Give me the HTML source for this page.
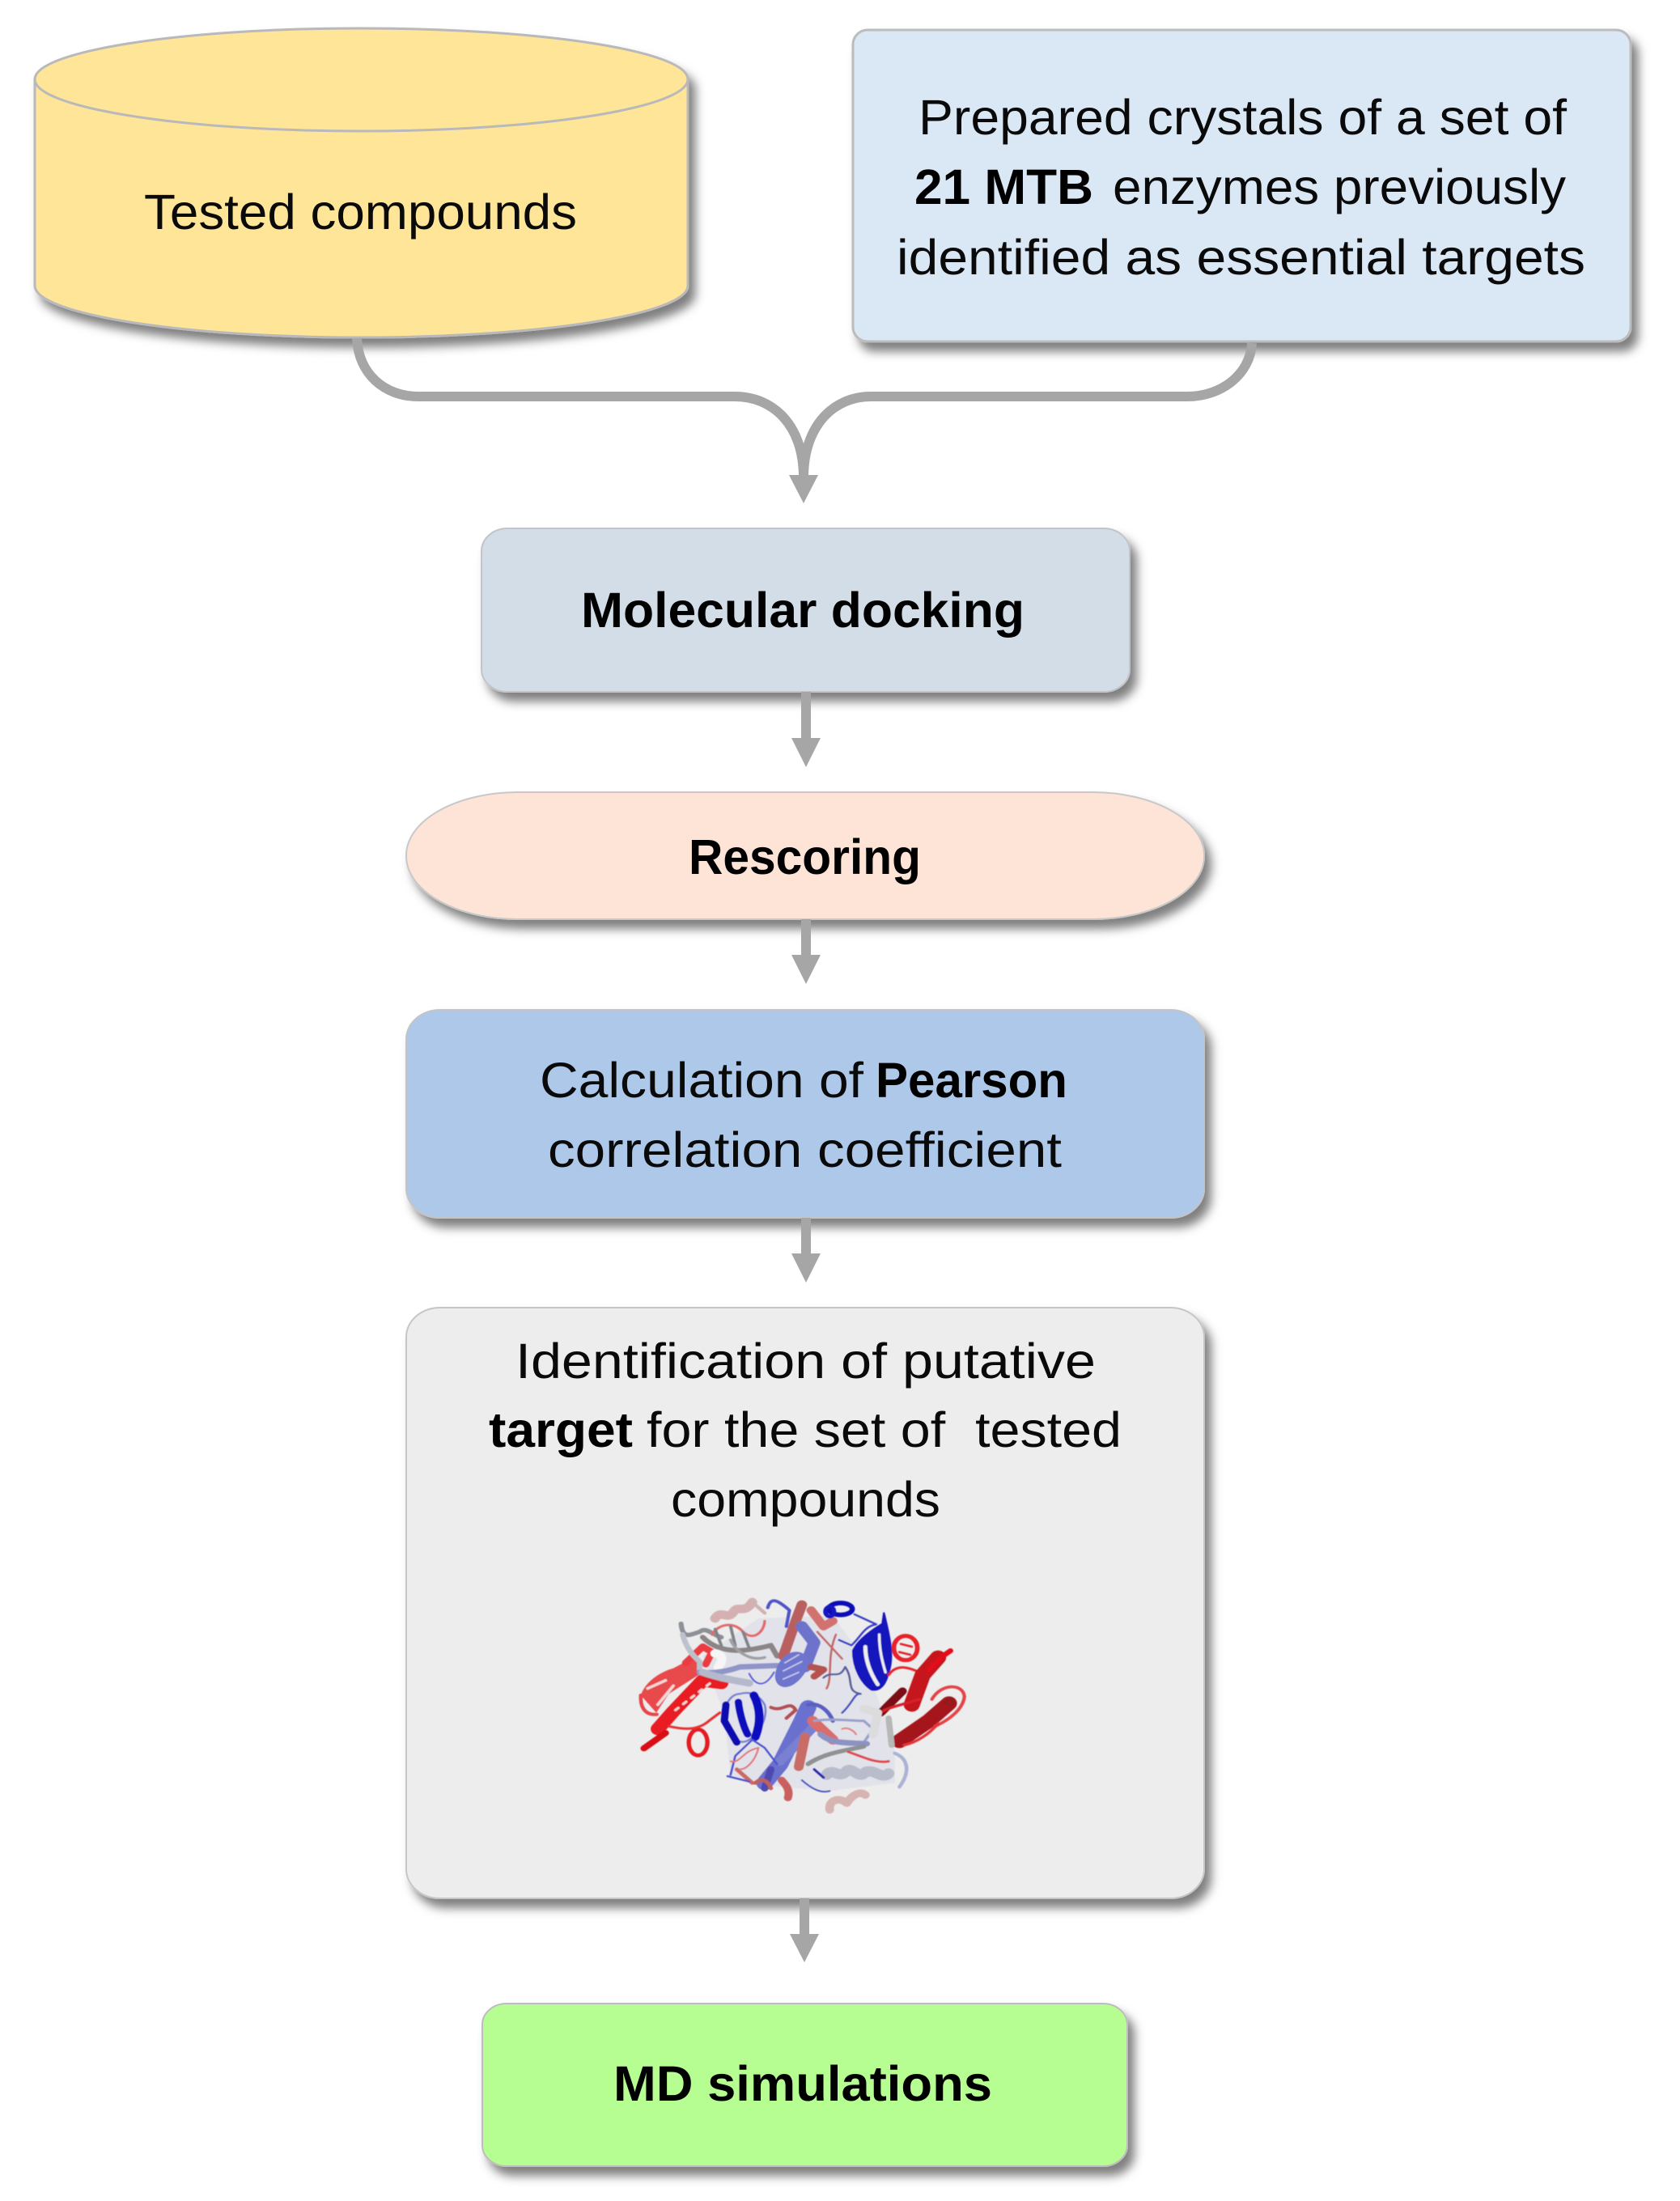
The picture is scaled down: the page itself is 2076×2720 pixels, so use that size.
<!DOCTYPE html>
<html lang="en">
<head>
<meta charset="utf-8">
<title>Docking workflow</title>
<style>
html,body{margin:0;padding:0;background:#fff}
svg{display:block}
text{font-family:"Liberation Sans",Arial,sans-serif;font-size:61px;fill:#0a0a0a}
.b{font-weight:bold;fill:#000}
</style>
</head>
<body>
<svg width="2076" height="2720" viewBox="0 0 2076 2720" xmlns="http://www.w3.org/2000/svg">
<defs>
<filter id="s" x="-10%" y="-15%" width="125%" height="140%">
<feDropShadow dx="8" dy="11" stdDeviation="6" flood-color="#000" flood-opacity=".5"/>
</filter>
<filter id="blur" x="-5%" y="-5%" width="110%" height="110%"><feGaussianBlur stdDeviation="1.6"/></filter>
</defs>
<rect width="2076" height="2720" fill="#fff"/>

<!-- Cylinder -->
<path filter="url(#s)" d="M43 98 C43 63 224 35 446 35 C669 35 850 63 850 98 V353 C850 388 669 417 446 417 C224 417 43 388 43 353 Z" fill="#ffe597" stroke="#b9b9bb" stroke-width="3"/>
<path d="M43 98 C43 133 224 162 446 162 C669 162 850 133 850 98" fill="none" stroke="#b9b9bb" stroke-width="3"/>
<text x="178" y="283" textLength="535" lengthAdjust="spacingAndGlyphs">Tested compounds</text>

<!-- Crystals -->
<rect filter="url(#s)" x="1054" y="37" width="961" height="385" rx="18" fill="#dae8f5" stroke="#bcbcbc" stroke-width="3"/>
<text x="1135" y="166" textLength="801" lengthAdjust="spacingAndGlyphs">Prepared crystals of a set of</text>
<text class="b" x="1130" y="252" textLength="221" lengthAdjust="spacingAndGlyphs">21 MTB</text>
<text x="1375" y="252" textLength="560" lengthAdjust="spacingAndGlyphs">enzymes previously</text>
<text x="1108" y="339" textLength="851" lengthAdjust="spacingAndGlyphs">identified as essential targets</text>

<!-- Connectors top -->
<g fill="none" stroke="#a6a6a6" stroke-width="12">
<path d="M441 418 C443 462 475 490 517 490 H908 C955 490 993 525 993 590"/>
<path d="M1547 424 C1545 462 1510 490 1467 490 H1076 C1031 490 993 525 993 590"/>
</g>
<polygon points="975,587 1011,587 993,622" fill="#a6a6a6"/>

<!-- Molecular docking -->
<rect filter="url(#s)" x="595" y="653" width="801" height="202" rx="32" ry="28" fill="#d3dde8" stroke="#c2c4c7" stroke-width="2"/>
<text class="b" x="718" y="775" textLength="548" lengthAdjust="spacingAndGlyphs">Molecular docking</text>
<rect x="990" y="855" width="12" height="60" fill="#a6a6a6"/>
<polygon points="978,912 1014,912 996,948" fill="#a6a6a6"/>

<!-- Rescoring -->
<rect filter="url(#s)" x="502" y="979" width="986" height="157" rx="138" ry="78" fill="#fee4d6" stroke="#c8c8c8" stroke-width="2"/>
<text class="b" x="851" y="1080" textLength="287" lengthAdjust="spacingAndGlyphs">Rescoring</text>
<rect x="990" y="1136" width="12" height="64" fill="#a6a6a6"/>
<polygon points="978,1180 1014,1180 996,1216" fill="#a6a6a6"/>

<!-- Pearson -->
<rect filter="url(#s)" x="502" y="1248" width="986" height="257" rx="42" ry="36" fill="#adc8e9" stroke="#c2c4c7" stroke-width="2"/>
<text x="667" y="1356" textLength="400" lengthAdjust="spacingAndGlyphs">Calculation of</text>
<text class="b" x="1082" y="1356" textLength="237" lengthAdjust="spacingAndGlyphs">Pearson</text>
<text x="677" y="1442" textLength="635" lengthAdjust="spacingAndGlyphs">correlation coefficient</text>
<rect x="990" y="1505" width="12" height="48" fill="#a6a6a6"/>
<polygon points="978,1549 1014,1549 996,1585" fill="#a6a6a6"/>

<!-- Identification -->
<rect filter="url(#s)" x="502" y="1616" width="986" height="730" rx="42" ry="36" fill="#ededed" stroke="#c6c6c6" stroke-width="2"/>
<text x="637" y="1703" textLength="717" lengthAdjust="spacingAndGlyphs">Identification of putative</text>
<text class="b" x="604" y="1788" textLength="178" lengthAdjust="spacingAndGlyphs">target</text>
<text x="799" y="1788" textLength="587" lengthAdjust="spacingAndGlyphs">for the set of&#160; tested</text>
<text x="829" y="1874" textLength="333" lengthAdjust="spacingAndGlyphs">compounds</text>

<!-- Protein -->
<g transform="translate(700 1920) scale(.3827 .3333)" fill="none" stroke-linecap="round" stroke-linejoin="round" filter="url(#blur)">
<!-- pale body -->
<path d="M440 380 L620 240 L860 230 L930 340 L1000 520 L1060 720 L1060 850 L850 880 L640 860 L530 820 L510 600 Z" fill="#d9d9e8" opacity=".55"/>
<!-- left red domain -->
<path d="M240 525 C255 475 300 440 345 425 L420 380 L440 440 L330 520 L290 590 Z" fill="#e8484c"/>
<path d="M262 500 L320 470 M295 560 L345 490" stroke="#f1d7d7" stroke-width="10"/>
<path d="M240 525 C238 565 250 600 292 596" stroke="#e8454a" stroke-width="12"/>
<path d="M385 405 L440 345 L470 365 L450 410" stroke="#ea3e42" stroke-width="24"/>
<path d="M295 650 L345 585 L440 470 L500 480" stroke="#e81d22" stroke-width="46"/>
<path d="M352 580 L470 475" stroke="#f3d3d3" stroke-width="9" stroke-dasharray="12 22"/>
<path d="M250 722 L320 665" stroke="#d90f14" stroke-width="22"/>
<ellipse cx="425" cy="700" rx="30" ry="48" stroke="#e31b20" stroke-width="14"/>
<path d="M330 640 C370 650 420 660 460 620 L495 590" stroke="#e63034" stroke-width="9"/>
<!-- top gray / pink -->
<path d="M370 260 C375 320 400 300 430 290 C450 270 470 300 500 310" stroke="#8d9096" stroke-width="16"/>
<path d="M375 300 C385 340 400 370 430 400 L430 430" stroke="#bcc2cd" stroke-width="18"/>
<path d="M480 240 C500 205 520 250 540 215 C555 190 575 225 600 180" stroke="#d5b0b2" stroke-width="32"/>
<path d="M600 180 L640 220" stroke="#cfb3b4" stroke-width="12"/>
<path d="M470 300 C490 260 540 250 570 290 C610 330 640 280 640 250" stroke="#e46b6b" stroke-width="9"/>
<path d="M440 310 C500 380 590 360 660 340 L680 380" stroke="#8b8587" stroke-width="18"/>
<path d="M480 280 L500 340 M530 270 L545 340 M570 290 L590 350" stroke="#80848a" stroke-width="10"/>
<path d="M530 320 C545 360 590 400 640 385" stroke="#a0a0a2" stroke-width="10"/>
<path d="M490 420 C510 390 500 370 480 370" stroke="#f6f6f6" stroke-width="30"/>
<path d="M430 440 C470 445 510 440 560 420 L680 415" stroke="#8f95c9" stroke-width="20"/>
<path d="M440 440 C490 460 540 470 590 480" stroke="#b4b9cb" stroke-width="26"/>
<path d="M590 445 C610 490 640 500 670 440" stroke="#5b62cf" stroke-width="6"/>
<!-- central upper -->
<path d="M650 200 C660 160 680 170 720 210 L710 270" stroke="#4f55c7" stroke-width="11"/>
<path d="M700 380 L740 250 L760 190" stroke="#b7605f" stroke-width="34"/>
<path d="M790 210 L830 270 L860 250" stroke="#d27270" stroke-width="30"/>
<path d="M760 270 L800 330 L770 420" stroke="#6d73cb" stroke-width="40"/>
<path d="M690 440 C710 350 790 370 760 430 C720 500 680 490 690 440" fill="#6e74cc" stroke="#6e74cc" stroke-width="30"/>
<path d="M705 405 L750 375 M700 435 L760 400 M700 465 L750 440" stroke="#c6c9ea" stroke-width="5"/>
<path d="M790 420 L830 430 L800 455" stroke="#b5524f" stroke-width="24"/>
<ellipse cx="885" cy="205" rx="38" ry="22" stroke="#1111b8" stroke-width="17"/>
<ellipse cx="850" cy="215" rx="14" ry="18" stroke="#1212c0" stroke-width="14"/>
<path d="M930 225 L1000 262 C960 270 950 310 920 340 L880 320" stroke="#3a3fc6" stroke-width="7"/>
<path d="M810 290 L890 390 M870 300 C840 380 860 460 840 500" stroke="#c36a68" stroke-width="7"/>
<path d="M830 460 C860 430 880 470 900 420 C930 470 900 510 950 520" stroke="#5a5f9b" stroke-width="7"/>
<!-- right blue sheet -->
<path d="M925 360 C940 320 990 280 1020 260 L1025 220 C1040 290 1060 380 1040 440 C1030 490 1010 510 985 505 C950 480 925 420 925 360 Z" fill="#1414bd" stroke="#1414bd" stroke-width="6"/>
<path d="M965 345 C965 400 985 450 1005 485" stroke="#ededed" stroke-width="13"/>
<path d="M1010 300 C1010 360 1020 400 1030 440" stroke="#ededed" stroke-width="9"/>
<!-- right red -->
<ellipse cx="1095" cy="350" rx="38" ry="45" stroke="#e8242a" stroke-width="15"/>
<path d="M1080 335 L1115 345 M1075 365 L1110 375" stroke="#e8242a" stroke-width="8"/>
<path d="M1040 450 C1070 400 1120 430 1140 440" stroke="#e8282d" stroke-width="9"/>
<path d="M1115 560 L1150 450 L1200 385" stroke="#c4141a" stroke-width="52"/>
<path d="M1170 430 L1215 380 L1240 360" stroke="#e3101a" stroke-width="18"/>
<path d="M1015 590 L1085 510" stroke="#7a1014" stroke-width="28"/>
<path d="M1000 610 C1010 580 1050 570 1080 560 L1140 540" stroke="#d5232a" stroke-width="10"/>
<path d="M1075 695 L1170 620 L1235 555" stroke="#a5171c" stroke-width="52"/>
<path d="M1180 540 C1210 480 1280 480 1285 530 C1280 580 1230 620 1190 640" stroke="#e3444a" stroke-width="11"/>
<circle cx="1238" cy="550" r="12" stroke="#8e1a1f" stroke-width="7"/>
<path d="M1090 710 C1130 700 1170 670 1200 630" stroke="#e5363b" stroke-width="10"/>
<!-- left blue sheet -->
<path d="M505 610 C520 660 550 720 590 690 C630 660 650 600 640 560 C620 520 590 510 560 520 C530 520 510 560 505 610" stroke="#7a82d2" stroke-width="7"/>
<path d="M515 560 L510 620 L550 700" stroke="#0d0daf" stroke-width="24"/>
<path d="M555 550 C560 600 575 650 585 670" stroke="#0f0fbd" stroke-width="24"/>
<path d="M605 525 C625 570 630 620 610 680" stroke="#1010c0" stroke-width="28"/>
<!-- centre lower -->
<path d="M660 570 C700 590 720 540 740 580 L710 610" stroke="#b44f52" stroke-width="12"/>
<path d="M640 850 L690 780 L760 620 L780 570" stroke="#6a70cd" stroke-width="54"/>
<path d="M690 770 L750 700 L800 640" stroke="#7a80d1" stroke-width="32"/>
<path d="M780 560 C820 550 850 590 860 620" stroke="#5a60c2" stroke-width="14"/>
<path d="M795 620 L860 690" stroke="#d96d6b" stroke-width="36"/>
<path d="M770 680 L750 790" stroke="#c76d66" stroke-width="32"/>
<path d="M640 870 L660 800" stroke="#4d49b0" stroke-width="24"/>
<path d="M600 850 L550 800" stroke="#cb6966" stroke-width="14"/>
<path d="M660 870 C650 840 630 830 610 850" stroke="#bf5e5e" stroke-width="14"/>
<path d="M715 905 C725 870 700 850 695 840" stroke="#c9605f" stroke-width="26"/>
<path d="M520 825 L590 845 M530 820 L545 750 L600 690 L640 720 L680 780" stroke="#4b52cf" stroke-width="7"/>
<path d="M530 770 C560 780 570 730 620 720 C610 770 580 800 560 800" stroke="#e07a7a" stroke-width="6"/>
<path d="M760 840 C790 870 820 890 850 880" stroke="#4a50c7" stroke-width="6"/>
<!-- lower right -->
<path d="M800 620 C850 610 920 620 960 620 L990 650 L960 700 L850 690" stroke="#9aa0cb" stroke-width="9"/>
<path d="M960 575 L1005 590 L990 670" stroke="#dcdcdc" stroke-width="28"/>
<path d="M1040 610 L1050 710" stroke="#b7b7b7" stroke-width="20"/>
<path d="M820 670 C860 710 920 700 970 705" stroke="#8c92c4" stroke-width="20"/>
<path d="M780 780 C830 740 900 730 960 715" stroke="#8e9292" stroke-width="16"/>
<path d="M910 735 C950 750 1000 780 1040 770" stroke="#e24a4f" stroke-width="9"/>
<path d="M840 820 C860 790 880 840 905 805 C925 790 945 840 965 810 C990 795 1020 840 1040 815" stroke="#b9bccb" stroke-width="38"/>
<path d="M1060 740 C1105 760 1110 810 1075 865" stroke="#acb2d4" stroke-width="12"/>
<path d="M850 950 C845 915 880 900 905 925 C925 890 950 880 965 895" stroke="#d6b4b2" stroke-width="28"/>
<path d="M800 800 L830 830" stroke="#2a2bb0" stroke-width="9"/>
<path d="M890 590 C920 560 930 520 945 520" stroke="#4c52c2" stroke-width="7"/>
<path d="M890 650 C910 640 930 660 935 670" stroke="#de7f7c" stroke-width="6"/>
</g>

<rect x="988" y="2346" width="12" height="48" fill="#a6a6a6"/>
<polygon points="976,2390 1012,2390 994,2425" fill="#a6a6a6"/>

<!-- MD -->
<rect filter="url(#s)" x="596" y="2476" width="797" height="201" rx="30" ry="26" fill="#b6fe92" stroke="#bdbdbd" stroke-width="2"/>
<text class="b" x="758" y="2596" textLength="468" lengthAdjust="spacingAndGlyphs">MD simulations</text>
</svg>
</body>
</html>
